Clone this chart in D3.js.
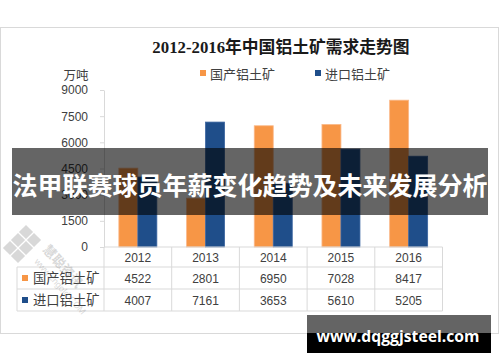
<!DOCTYPE html>
<html><head><meta charset="utf-8">
<script src="https://cdn.jsdelivr.net/npm/d3@7"></script>
<style>
html,body{margin:0;padding:0;background:#fff;}
svg{display:block;}
</style></head>
<body>
<script>
const years = ["2012","2013","2014","2015","2016"];
const seriesNames = ["国产铝土矿","进口铝土矿"];
const domestic = [4522, 2801, 6950, 7028, 8417];
const imported = [4007, 7161, 3653, 5610, 5205];
const yTicks = [0,1500,3000,4500,6000,7500,9000];
const colors = ["#F79646","#1F4E8A"];
const titleText = "2012-2016年中国铝土矿需求走势图";
const unitText = "万吨";
const bannerText = "法甲联赛球员年薪变化趋势及未来发展分析";
const urlText = "www.dqggjsteel.com";

const W = 500, H = 362;
const svg = d3.select("body").append("svg").attr("width", W).attr("height", H);
svg.append("rect").attr("width", W).attr("height", H).attr("fill", "#fff");

// frame
svg.append("rect").attr("x", 0.5).attr("y", 27.5).attr("width", 498).attr("height", 306)
  .attr("fill", "#fff").attr("stroke", "#D9D9D9");

const gridC = "#D9D9D9", txtC = "#404040";
const sans = "'Liberation Sans','Noto Sans CJK SC',sans-serif";

// title
svg.append("text").attr("x", 281).attr("y", 53).attr("text-anchor", "middle")
  .attr("font-family", "'Liberation Serif','Noto Sans CJK SC',serif").attr("font-weight", "bold")
  .attr("font-size", 16.8).attr("fill", "#1a1a1a").text(titleText);

// unit
svg.append("text").attr("x", 76).attr("y", 80).attr("text-anchor", "middle")
  .attr("font-family", "'Noto Sans CJK SC',sans-serif").attr("font-size", 12.5).attr("fill", txtC).text(unitText);

// legend top
const legX = [200, 315];
seriesNames.forEach((n, i) => {
  svg.append("rect").attr("x", legX[i]).attr("y", 70).attr("width", 6).attr("height", 6).attr("fill", colors[i]);
  svg.append("text").attr("x", legX[i] + 10).attr("y", 78.5)
    .attr("font-family", "'Noto Sans CJK SC',sans-serif").attr("font-size", 13).attr("fill", txtC).text(n);
});

// scales
const y = d3.scaleLinear().domain([0, 9000]).range([247, 90]);
const x = d3.scaleBand().domain(years).range([104, 442.5]).padding(0);
const bw = x.bandwidth();
const x1 = d3.scaleBand().domain(seriesNames).range([bw / 2 - 19, bw / 2 + 19]).padding(0);

// y axis
const yAxis = d3.axisLeft(y).tickValues(yTicks).tickSize(4).tickSizeOuter(0).tickPadding(12).tickFormat(d3.format("d"));
const ga = svg.append("g").attr("transform", "translate(104,0)").call(yAxis);
ga.select(".domain").attr("stroke", gridC);
ga.selectAll(".tick line").attr("stroke", gridC);
ga.selectAll(".tick text").attr("font-family", sans).attr("font-size", 12).attr("fill", txtC);

// bars
const data = years.map((yr, i) => ({ yr, vals: [domestic[i], imported[i]] }));
const gb = svg.append("g");
data.forEach(d => {
  d.vals.forEach((v, j) => {
    gb.append("rect")
      .attr("x", x(d.yr) + x1(seriesNames[j]))
      .attr("y", y(v))
      .attr("width", x1.bandwidth())
      .attr("height", y(0) - y(v))
      .attr("fill", colors[j])
      .attr("stroke", j === 0 ? "#FAB98A" : "#3A64A0")
      .attr("stroke-width", 0.8);
  });
});

// data table
const rowYs = [247, 267, 289, 311];
const tableLeft = 17, tableRight = 442.5;
const gt = svg.append("g").attr("stroke", gridC).attr("stroke-width", 1);
gt.append("line").attr("x1", 104).attr("x2", tableRight).attr("y1", rowYs[0]).attr("y2", rowYs[0]);
[1, 2, 3].forEach(k => gt.append("line").attr("x1", tableLeft).attr("x2", tableRight).attr("y1", rowYs[k]).attr("y2", rowYs[k]));
gt.append("line").attr("x1", tableLeft).attr("x2", tableLeft).attr("y1", rowYs[1]).attr("y2", rowYs[3]);
years.forEach(yr => {
  gt.append("line").attr("x1", x(yr)).attr("x2", x(yr)).attr("y1", rowYs[0]).attr("y2", rowYs[3]);
});
gt.append("line").attr("x1", tableRight).attr("x2", tableRight).attr("y1", rowYs[0]).attr("y2", rowYs[3]);

const rowData = [years, domestic, imported];
rowData.forEach((row, r) => {
  const cy = (rowYs[r] + rowYs[r + 1]) / 2;
  years.forEach((yr, i) => {
    svg.append("text").attr("x", x(yr) + bw / 2).attr("y", cy + 4.5).attr("text-anchor", "middle")
      .attr("font-family", sans).attr("font-size", 12).attr("fill", txtC).text(row[i]);
  });
});
seriesNames.forEach((n, i) => {
  const cy = (rowYs[i + 1] + rowYs[i + 2]) / 2;
  svg.append("rect").attr("x", 22).attr("y", cy - 3).attr("width", 6).attr("height", 6).attr("fill", colors[i]);
  svg.append("text").attr("x", 33).attr("y", cy + 5)
    .attr("font-family", "'Noto Sans CJK SC',sans-serif").attr("font-size", 13.3).attr("fill", txtC).text(n);
});

// watermark (decorative)
const wm = svg.append("g").attr("opacity", 0.28).attr("fill", "#777");
const sq = [[26,232],[18,240],[34,240],[26,248],[10,248],[18,256]];
sq.forEach(p => wm.append("rect").attr("x", -5).attr("y", -5).attr("width", 10).attr("height", 10)
  .attr("transform", `translate(${p[0]},${p[1]}) rotate(45)`));
wm.append("text").attr("transform", "translate(42,250) rotate(48)")
  .attr("font-family", "'Noto Sans CJK SC',sans-serif").attr("font-size", 13).attr("font-weight", "bold").text("慧聪资讯");
wm.append("text").attr("transform", "translate(34,262) rotate(48)")
  .attr("font-family", sans).attr("font-size", 9).text("www.cngold.COM");

// overlay banner
svg.append("rect").attr("x", 12).attr("y", 148).attr("width", 476).attr("height", 67)
  .attr("fill", "#000").attr("fill-opacity", 0.605);
svg.append("text").attr("x", 250).attr("y", 195).attr("text-anchor", "middle")
  .attr("font-family", "'Noto Sans CJK SC',sans-serif").attr("font-weight", "bold")
  .attr("font-size", 25).attr("fill", "#fff").text(bannerText);

// url badge
svg.append("rect").attr("x", 307).attr("y", 315).attr("width", 184).attr("height", 18).attr("fill", "#646464");
svg.append("rect").attr("x", 307).attr("y", 333).attr("width", 184).attr("height", 20).attr("fill", "#000");
svg.append("text").attr("x", 316.5).attr("y", 342)
  .attr("font-family", "'Open Sans','DejaVu Sans',sans-serif").attr("font-weight", "bold")
  .attr("font-size", 16.5).attr("textLength", 163).attr("lengthAdjust", "spacingAndGlyphs")
  .attr("fill", "#fff").text(urlText);
</script>
</body></html>
